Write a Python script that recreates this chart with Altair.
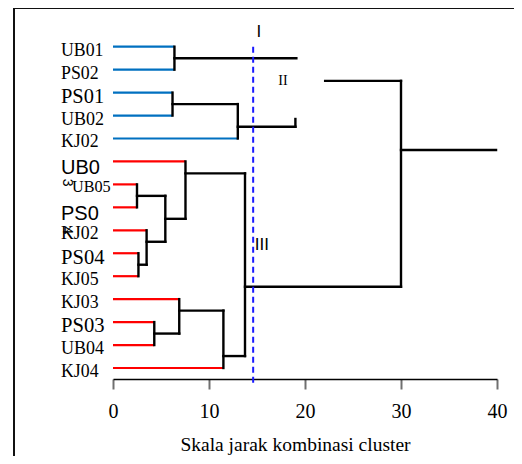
import altair as alt
import pandas as pd

# ---- data ----
leaf_labels = ["UB01", "PS02", "PS01", "UB02", "KJ02",
               "UB0", "UB05", "PS0", "KJ02", "PS04", "KJ05",
               "KJ03", "PS03", "UB04", "KJ04"]
leaf_end = [6.4, 6.4, 6.2, 6.2, 13.0,
            7.55, 2.5, 2.5, 3.5, 2.65, 2.65,
            6.9, 4.3, 4.3, 11.5]
leaf_group = ["blue"] * 5 + ["red"] * 10

# vertical joins: distance, from leaf-pos, to leaf-pos
v_x = [6.4, 6.2, 13.0, 19.0, 30.0, 2.5, 2.65, 3.5, 5.45, 7.55, 13.75, 4.3, 6.9, 11.5]
v_y1 = [0, 2, 2.5, 3.49, 1.49, 6, 9, 8, 6.5, 5, 5.52, 12, 11, 11.5]
v_y2 = [1, 3, 4, 3.15, 10.46, 7, 10, 9.5, 8.5, 7.5, 13.48, 13, 12.5, 14]
# horizontal joins: leaf-pos, from distance, to distance
h_y = [0.5, 2.5, 3.49, 1.49, 10.46, 4.5, 6.5, 9.5, 8.5, 7.5, 5.52, 13.48, 12.5, 11.5]
h_x1 = [6.4, 6.2, 13.0, 22.1, 13.75, 30.0, 2.5, 2.65, 3.5, 5.45, 7.55, 11.5, 4.3, 6.9]
h_x2 = [19.1, 13.0, 19.0, 30.0, 30.0, 39.9, 5.45, 3.5, 5.45, 7.55, 13.75, 13.75, 6.9, 11.5]

cut_distance = 14.6
cut_top, cut_bottom = 0.0, 14.74

roman_text = ["I", "II", "III"]
roman_x = [15.2, 17.7, 15.5]
roman_y = [-0.64, 1.49, 8.65]
roman_font = ["sans", "serif", "sans"]

tick_values = [0, 10, 20, 30, 40]
x_title = "Skala jarak kombinasi cluster"

# ---- styles (kept separate) ----
label_font = ["serif", "serif", "serif", "serif", "serif",
              "sans", "serif", "sans", "serif", "serif", "serif",
              "serif", "serif", "serif", "serif"]
label_size = [17.8, 17.8, 20.4, 18, 17.8,
              20, 16.2, 20, 17.8, 20.6, 17.8,
              17.8, 20.6, 18, 17.8]
BLUE = "#0070C0"
RED = "#FF0000"

# ---- tables ----
leaves = pd.DataFrame({"y": list(range(len(leaf_labels))), "x": 0.0, "x2": leaf_end,
                       "g": leaf_group, "label": leaf_labels,
                       "font": label_font, "fs": label_size})
vert = pd.DataFrame({"x": v_x, "x2": v_x, "y": v_y1, "y2": v_y2})
hori = pd.DataFrame({"x": h_x1, "x2": h_x2, "y": h_y, "y2": h_y})
joins = pd.concat([vert, hori], ignore_index=True)
cut = pd.DataFrame({"x": [cut_distance], "y": [cut_top], "y2": [cut_bottom]})
romans = pd.DataFrame({"t": roman_text, "x": roman_x, "y": roman_y, "f": roman_font})

xscale = alt.Scale(domain=[0, 40], nice=False, zero=False)
yscale = alt.Scale(domain=[-1.643, 14.48], nice=False, zero=False, reverse=True)

xaxis = alt.Axis(values=tick_values, grid=False, domainColor="black", domainWidth=1.5,
                 tickColor="#707070", tickWidth=2, tickSize=10,
                 labelFont="Liberation Serif", labelFontSize=20, labelColor="black",
                 labelBaseline="alphabetic", labelPadding=28, labelFlush=False,
                 title=x_title, titleFont="Liberation Serif", titleFontSize=19.5,
                 titleFontWeight="normal", titleColor="black",
                 titleX=182, titleY=71, titleBaseline="alphabetic", titleAlign="center")

leaf_lines = alt.Chart(leaves).mark_rule(strokeWidth=2.2).encode(
    x=alt.X("x:Q", scale=xscale, axis=xaxis),
    x2="x2:Q",
    y=alt.Y("y:Q", scale=yscale, axis=None),
    y2="y:Q",
    color=alt.Color("g:N", scale=alt.Scale(domain=["blue", "red"], range=[BLUE, RED]), legend=None),
)

join_lines = alt.Chart(joins).mark_rule(strokeWidth=2.4, color="black", strokeCap="square").encode(
    x="x:Q", x2="x2:Q", y="y:Q", y2="y2:Q")

cut_line = alt.Chart(cut).mark_rule(strokeWidth=2, color="#1a1aff", strokeDash=[6, 4]).encode(
    x="x:Q", y="y:Q", y2="y2:Q")

serif_labels = alt.Chart(leaves).transform_filter(
    (alt.datum.font == "serif") & (alt.datum.label != "UB05")
).transform_calculate(
    ty="datum.y + datum.fs * 0.5 / 22.95",
).mark_text(align="left", baseline="alphabetic", font="Liberation Serif", dx=-52, color="black").encode(
    x="x:Q", y="ty:Q", text="label:N", size=alt.Size("fs:Q", scale=None))

ub05 = alt.Chart(leaves).transform_filter(alt.datum.label == "UB05").transform_calculate(
    ty="datum.y + datum.fs * 0.5 / 22.95").mark_text(
    align="left", baseline="alphabetic", font="Liberation Serif", dx=-41, color="black").encode(
    x="x:Q", y="ty:Q", text="label:N", size=alt.Size("fs:Q", scale=None))

sans_labels = alt.Chart(leaves).transform_filter(alt.datum.font == "sans").transform_calculate(
    ty="datum.y + datum.fs * 0.63 / 22.95").mark_text(
    align="left", baseline="alphabetic", font="Liberation Sans", dx=-52, color="black").encode(
    x="x:Q", y="ty:Q", text="label:N", size=alt.Size("fs:Q", scale=None))

# stray rotated glyphs next to the wrapped labels
glyphs = pd.DataFrame({"t": ["3", "4"], "y": [5.92, 8.0]})
glyph_marks = alt.Chart(glyphs).mark_text(font="Liberation Sans", fontSize=14, angle=90,
                                          color="black").encode(
    x=alt.value(-46), y="y:Q", text="t:N")

roman_sans = alt.Chart(romans).transform_filter(alt.datum.f == "sans").mark_text(
    font="Liberation Sans", fontSize=17, color="black").encode(
    x="x:Q", y="y:Q", text="t:N")
roman_serif = alt.Chart(romans).transform_filter(alt.datum.f == "serif").mark_text(
    font="Liberation Serif", fontSize=14, color="black").encode(
    x="x:Q", y="y:Q", text="t:N")

one = alt.Data(values=[{}])
frame_left = alt.Chart(one).mark_rule(color="#111", strokeWidth=2).encode(
    x=alt.value(-99), y=alt.value(-1), y2=alt.value(460))
frame_top = alt.Chart(one).mark_rule(color="#111", strokeWidth=2).encode(
    x=alt.value(-100), x2=alt.value(420), y=alt.value(-1))

chart = alt.layer(
    frame_left, frame_top, leaf_lines, join_lines, cut_line,
    serif_labels, ub05, sans_labels,
    glyph_marks, roman_sans, roman_serif,
).properties(
    width=384, height=370,
    padding={"left": 105, "top": 1, "right": 17, "bottom": 77},
    autosize=alt.AutoSizeParams(type="none"),
).configure_view(stroke=None)

chart.save("out.html", embed_options={"renderer": "svg", "actions": False})
